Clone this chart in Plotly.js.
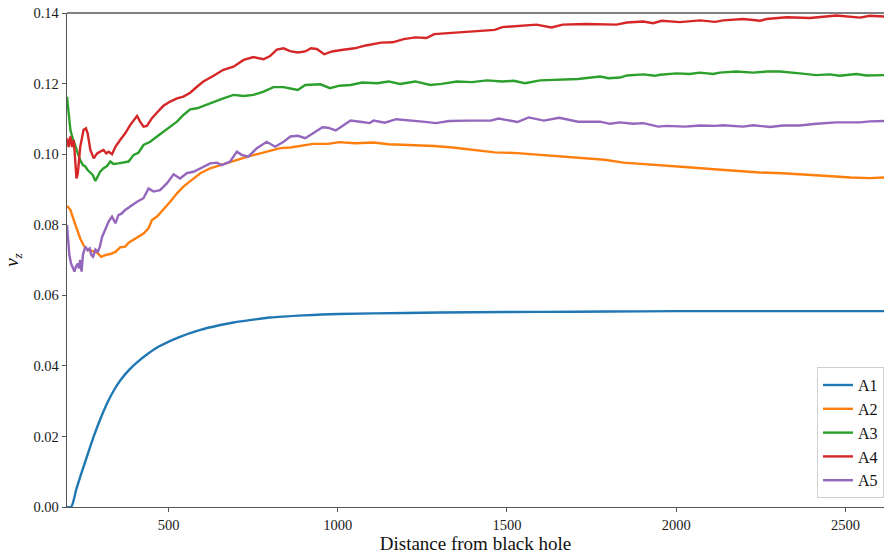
<!DOCTYPE html>
<html>
<head>
<meta charset="utf-8">
<script src="https://cdn.plot.ly/plotly-3.0.1.min.js"></script>
<style>html,body{margin:0;padding:0;background:#fff;}#chart{width:884px;height:556px;}</style>
</head>
<body>
<div id="chart"></div>
<script>
const seriesNames = ["A1", "A2", "A3", "A4", "A5"];
const seriesColors = ["#1f77b4", "#ff7f0e", "#2ca02c", "#d62728", "#9467bd"];
const xTickVals = [500, 1000, 1500, 2000, 2500];
const yTickVals = [0, 0.02, 0.04, 0.06, 0.08, 0.10, 0.12, 0.14];
const yTickText = ["0.00", "0.02", "0.04", "0.06", "0.08", "0.10", "0.12", "0.14"];

const a1X = [200, 212, 228, 244, 262, 279, 300, 320, 340, 360, 385, 407, 440, 470, 530, 594, 650, 692, 750, 800, 900, 1000, 1200, 1400, 1600, 1800, 2000, 2200, 2400, 2614];
const a1Y = [0, 0, 0.0052, 0.0100, 0.0152, 0.0200, 0.0253, 0.0297, 0.0333, 0.0362, 0.0390, 0.0410, 0.0435, 0.0454, 0.0481, 0.0502, 0.0515, 0.0523, 0.0531, 0.0537, 0.0543, 0.0547, 0.0550, 0.0552, 0.0553, 0.0554, 0.0555, 0.0555, 0.0555, 0.0555];

const a2X = [200, 210, 220, 230, 239, 249, 261, 274, 289, 301, 313, 328, 343, 357, 372, 382, 397, 411, 426, 441, 451, 466, 485, 505, 525, 544, 569, 594, 623, 653, 682, 712, 741, 771, 800, 830, 860, 893, 927, 971, 1005, 1050, 1106, 1150, 1217, 1285, 1340, 1396, 1464, 1531, 1598, 1665, 1732, 1788, 1844, 1911, 1978, 2045, 2112, 2180, 2247, 2314, 2381, 2448, 2515, 2571, 2614];
const a2Y = [0.0854, 0.0842, 0.0813, 0.0785, 0.0761, 0.0742, 0.0728, 0.0726, 0.0721, 0.0709, 0.0714, 0.0717, 0.0723, 0.0736, 0.0738, 0.0749, 0.0758, 0.0766, 0.0775, 0.0790, 0.0813, 0.0823, 0.0842, 0.0865, 0.0889, 0.0908, 0.0927, 0.0946, 0.0960, 0.0969, 0.0979, 0.0988, 0.0995, 0.1002, 0.1010, 0.1017, 0.1019, 0.1024, 0.1029, 0.1029, 0.1034, 0.1031, 0.1033, 0.1028, 0.1026, 0.1023, 0.1019, 0.1012, 0.1005, 0.1003, 0.0998, 0.0993, 0.0987, 0.0984, 0.0976, 0.0972, 0.0968, 0.0962, 0.0957, 0.0952, 0.0948, 0.0946, 0.0943, 0.0938, 0.0934, 0.0932, 0.0934];

const a3X = [200, 205, 210, 215, 222, 230, 239, 247, 254, 261, 269, 276, 284, 291, 298, 308, 318, 328, 337, 352, 367, 382, 397, 411, 426, 446, 466, 485, 505, 525, 544, 564, 584, 603, 633, 662, 692, 722, 751, 781, 810, 840, 860, 882, 904, 949, 977, 1005, 1038, 1072, 1117, 1150, 1184, 1229, 1273, 1307, 1352, 1396, 1441, 1486, 1520, 1553, 1598, 1643, 1710, 1775, 1800, 1834, 1854, 1903, 1937, 1952, 2001, 2040, 2070, 2109, 2129, 2178, 2227, 2267, 2306, 2365, 2414, 2454, 2483, 2532, 2562, 2614];
const a3Y = [0.1163, 0.1116, 0.1069, 0.1050, 0.1031, 0.1012, 0.0983, 0.0969, 0.0965, 0.0955, 0.0947, 0.0941, 0.0924, 0.0936, 0.0950, 0.0960, 0.0966, 0.0979, 0.0972, 0.0974, 0.0976, 0.0979, 0.0998, 0.1004, 0.1026, 0.1035, 0.1050, 0.1064, 0.1078, 0.1092, 0.1111, 0.1127, 0.1130, 0.1137, 0.1149, 0.1158, 0.1168, 0.1165, 0.1168, 0.1177, 0.1190, 0.1190, 0.1186, 0.1182, 0.1196, 0.1198, 0.1187, 0.1194, 0.1196, 0.1203, 0.1201, 0.1206, 0.1199, 0.1206, 0.1196, 0.1199, 0.1206, 0.1204, 0.1209, 0.1206, 0.1208, 0.1201, 0.1209, 0.1211, 0.1213, 0.1220, 0.1215, 0.1217, 0.1223, 0.1226, 0.1222, 0.1225, 0.1229, 0.1227, 0.1231, 0.1227, 0.1231, 0.1234, 0.1231, 0.1234, 0.1234, 0.1229, 0.1224, 0.1226, 0.1222, 0.1227, 0.1223, 0.1224];

const a4X = [200, 205, 210, 215, 220, 228, 232, 239, 249, 256, 261, 269, 279, 289, 298, 308, 316, 323, 333, 343, 357, 372, 387, 407, 416, 426, 436, 451, 466, 485, 505, 525, 544, 564, 584, 603, 633, 662, 692, 722, 751, 781, 800, 820, 840, 859, 882, 904, 921, 938, 960, 983, 1016, 1050, 1083, 1128, 1162, 1195, 1229, 1262, 1285, 1329, 1374, 1419, 1464, 1486, 1531, 1587, 1631, 1665, 1732, 1775, 1824, 1854, 1903, 1932, 1957, 2011, 2070, 2115, 2139, 2198, 2248, 2267, 2326, 2395, 2474, 2543, 2572, 2614];
const a4Y = [0.1045, 0.1020, 0.1050, 0.1020, 0.1040, 0.0931, 0.0946, 0.1020, 0.1069, 0.1073, 0.1059, 0.1012, 0.0988, 0.1002, 0.1007, 0.1012, 0.1002, 0.1007, 0.1000, 0.1021, 0.1040, 0.1059, 0.1083, 0.1108, 0.1092, 0.1078, 0.1080, 0.1102, 0.1118, 0.1137, 0.1149, 0.1158, 0.1163, 0.1174, 0.1191, 0.1206, 0.1222, 0.1239, 0.1248, 0.1267, 0.1275, 0.1269, 0.1278, 0.1296, 0.1300, 0.1292, 0.1288, 0.1291, 0.1300, 0.1298, 0.1283, 0.1291, 0.1296, 0.1300, 0.1308, 0.1316, 0.1317, 0.1326, 0.1331, 0.1329, 0.1340, 0.1343, 0.1346, 0.1351, 0.1352, 0.1360, 0.1364, 0.1367, 0.1359, 0.1367, 0.1369, 0.1369, 0.1367, 0.1373, 0.1376, 0.1371, 0.1378, 0.1374, 0.1379, 0.1375, 0.1379, 0.1383, 0.1378, 0.1383, 0.1388, 0.1386, 0.1393, 0.1387, 0.1392, 0.1390];

const a5X = [200, 203, 207, 212, 218, 222, 226, 232, 235, 239, 243, 247, 254, 261, 267, 272, 277, 284, 291, 297, 304, 313, 323, 333, 343, 352, 362, 372, 387, 407, 426, 441, 456, 475, 495, 515, 534, 554, 574, 594, 623, 643, 657, 682, 702, 716, 736, 761, 790, 815, 840, 860, 882, 904, 927, 955, 971, 994, 1016, 1038, 1072, 1094, 1106, 1139, 1173, 1217, 1251, 1290, 1329, 1385, 1452, 1475, 1531, 1564, 1609, 1654, 1710, 1775, 1804, 1834, 1873, 1903, 1947, 1971, 2026, 2070, 2115, 2139, 2198, 2227, 2277, 2316, 2365, 2414, 2474, 2543, 2572, 2614];
const a5Y = [0.0799, 0.0757, 0.0714, 0.0690, 0.0676, 0.0667, 0.0681, 0.0690, 0.0676, 0.0700, 0.0667, 0.0714, 0.0738, 0.0728, 0.0733, 0.0714, 0.0709, 0.0730, 0.0723, 0.0738, 0.0766, 0.0785, 0.0809, 0.0823, 0.0804, 0.0827, 0.0832, 0.0842, 0.0853, 0.0865, 0.0875, 0.0903, 0.0894, 0.0898, 0.0917, 0.0943, 0.0931, 0.0946, 0.0950, 0.0960, 0.0974, 0.0976, 0.0969, 0.0979, 0.1007, 0.0998, 0.0993, 0.1017, 0.1035, 0.1021, 0.1035, 0.1050, 0.1052, 0.1045, 0.1059, 0.1076, 0.1075, 0.1067, 0.1081, 0.1095, 0.1091, 0.1088, 0.1095, 0.1089, 0.1099, 0.1094, 0.1092, 0.1088, 0.1094, 0.1095, 0.1095, 0.1101, 0.1091, 0.1104, 0.1095, 0.1103, 0.1092, 0.1092, 0.1086, 0.1090, 0.1086, 0.1088, 0.1078, 0.1080, 0.1078, 0.1081, 0.1080, 0.1082, 0.1078, 0.1082, 0.1077, 0.1081, 0.1081, 0.1086, 0.1090, 0.1090, 0.1093, 0.1094];

const xs = [a1X, a2X, a3X, a4X, a5X];
const ys = [a1Y, a2Y, a3Y, a4Y, a5Y];

const traces = seriesNames.map((name, i) => ({
  type: "scatter",
  mode: "lines",
  name: name,
  x: xs[i],
  y: ys[i],
  line: i === 0 ? { color: seriesColors[i], width: 2.4, shape: "spline", smoothing: 0.8 }
                : { color: seriesColors[i], width: 2.4 },
  hoverinfo: "skip"
}));

const fontFam = "Liberation Serif, Times New Roman, serif";
const layout = {
  width: 884,
  height: 556,
  margin: { l: 67, r: 0, t: 13, b: 49, pad: 0 },
  paper_bgcolor: "#ffffff",
  plot_bgcolor: "#ffffff",
  font: { family: fontFam, size: 14, color: "#222" },
  showlegend: true,
  xaxis: {
    range: [200, 2614],
    tickvals: xTickVals,
    ticktext: xTickVals.map(String),
    ticks: "outside",
    ticklen: 4,
    tickwidth: 1,
    tickcolor: "#555",
    showline: true,
    linecolor: "#555",
    linewidth: 1.3,
    showgrid: false,
    zeroline: false,
    tickfont: { family: fontFam, size: 14.5, color: "#1a1a1a" },
    title: { text: "Distance from black hole", font: { family: fontFam, size: 19, color: "#111" }, standoff: 5 }
  },
  yaxis: {
    range: [0, 0.14],
    tickvals: yTickVals,
    ticktext: yTickText,
    ticks: "outside",
    ticklen: 4,
    tickwidth: 1,
    tickcolor: "#555",
    showline: true,
    linecolor: "#555",
    linewidth: 1.3,
    showgrid: false,
    zeroline: false,
    tickfont: { family: fontFam, size: 14.5, color: "#1a1a1a" },
    title: { text: "<i>v</i><sub><i>z</i></sub>", font: { family: fontFam, size: 19, color: "#111" }, standoff: 9 }
  },
  shapes: [
    { type: "line", xref: "paper", yref: "paper", x0: 0, x1: 1, y0: 1, y1: 1, line: { color: "#000", width: 1.2 } }
  ],
  legend: {
    x: 1, xanchor: "right",
    y: 0.018, yanchor: "bottom",
    bgcolor: "rgba(255,255,255,0.85)",
    bordercolor: "#d0d0d0",
    borderwidth: 1,
    font: { family: fontFam, size: 16, color: "#111" },
    itemwidth: 30,
    tracegroupgap: 0
  }
};

Plotly.newPlot("chart", traces, layout, { displayModeBar: false, staticPlot: true });
</script>
</body>
</html>
